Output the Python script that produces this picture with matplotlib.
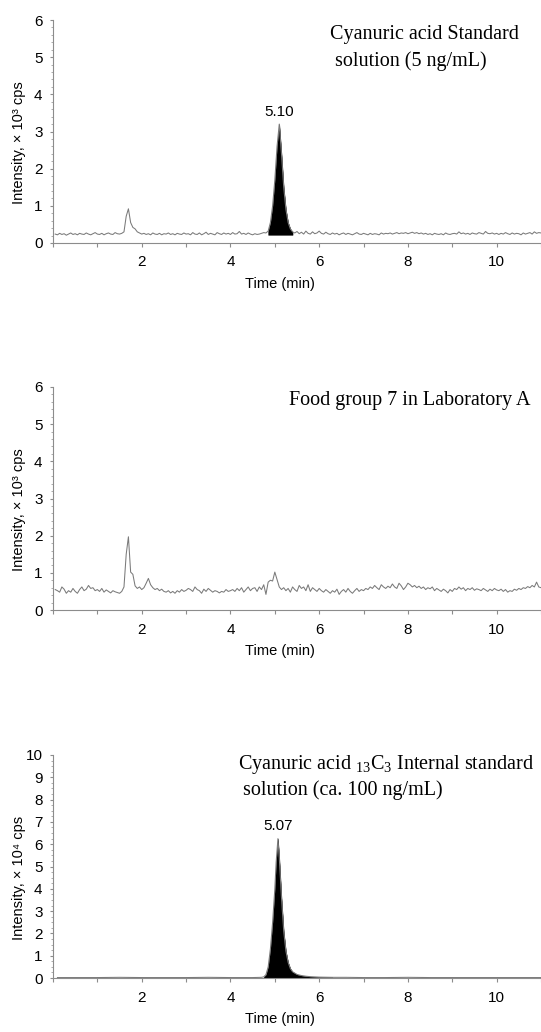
import numpy as np
import matplotlib
matplotlib.use("Agg")
import matplotlib.pyplot as plt
from matplotlib.ticker import MultipleLocator

plt.rcParams['font.family'] = ['Liberation Sans', 'DejaVu Sans']
plt.rcParams['mathtext.fontset'] = 'custom'
plt.rcParams['mathtext.rm'] = 'Liberation Serif'

# ---------------- data ----------------
# sampling grid for panels 1 and 2 (min)
time_grid = np.round(np.arange(1, 221) * 0.05, 2)

# Panel 1: cyanuric acid standard (x10^3 cps)
std_values = [
    0.24, 0.22, 0.26, 0.23, 0.25, 0.21, 0.24, 0.27, 0.23, 0.25, 0.22, 0.26, 0.24, 0.23, 0.27, 0.24, 0.22, 0.25, 0.28, 0.24,
    0.23, 0.26, 0.22, 0.25, 0.27, 0.24, 0.23, 0.28, 0.25, 0.24, 0.26, 0.30, 0.72, 0.92, 0.55, 0.42, 0.38, 0.30, 0.27, 0.24,
    0.26, 0.23, 0.25, 0.22, 0.27, 0.24, 0.23, 0.26, 0.22, 0.25, 0.24, 0.27, 0.23, 0.25, 0.22, 0.26, 0.24, 0.23, 0.27, 0.24,
    0.25, 0.22, 0.28, 0.24, 0.23, 0.27, 0.22, 0.25, 0.29, 0.23, 0.26, 0.24, 0.22, 0.28, 0.25, 0.23, 0.27, 0.24, 0.26, 0.23,
    0.28, 0.24, 0.25, 0.31, 0.24, 0.26, 0.23, 0.27, 0.24, 0.22, 0.25, 0.23, 0.24, 0.26, 0.28, 0.27, 0.32, 0.55, 1.00, 1.70,
    2.60, 3.20, 2.40, 1.50, 0.90, 0.55, 0.38, 0.30, 0.27, 0.31, 0.25, 0.29, 0.24, 0.32, 0.26, 0.24, 0.30, 0.25, 0.27, 0.32,
    0.26, 0.24, 0.29, 0.25, 0.23, 0.27, 0.24, 0.26, 0.22, 0.25, 0.27, 0.23, 0.26, 0.24, 0.22, 0.25, 0.28, 0.24, 0.23, 0.26,
    0.24, 0.22, 0.26, 0.23, 0.25, 0.24, 0.22, 0.27, 0.24, 0.26, 0.25, 0.27, 0.24, 0.26, 0.28, 0.25, 0.27, 0.26, 0.28, 0.25,
    0.27, 0.29, 0.26, 0.28, 0.25, 0.27, 0.24, 0.26, 0.23, 0.25, 0.22, 0.26, 0.24, 0.23, 0.25, 0.22, 0.27, 0.24, 0.23, 0.25,
    0.26, 0.24, 0.30, 0.25, 0.27, 0.24, 0.26, 0.23, 0.27, 0.25, 0.24, 0.28, 0.26, 0.24, 0.31, 0.26, 0.25, 0.27, 0.24, 0.26,
    0.23, 0.26, 0.24, 0.28, 0.25, 0.23, 0.27, 0.24, 0.26, 0.25, 0.22, 0.27, 0.24, 0.26, 0.28, 0.24, 0.30, 0.26, 0.28, 0.27,
]

# Panel 2: food group 7, laboratory A (x10^3 cps)
food_values = [
    0.55, 0.52, 0.48, 0.62, 0.56, 0.45, 0.52, 0.48, 0.58, 0.50, 0.45, 0.55, 0.62, 0.52, 0.56, 0.66, 0.58, 0.60, 0.52, 0.55,
    0.50, 0.58, 0.48, 0.54, 0.50, 0.46, 0.52, 0.49, 0.47, 0.45, 0.50, 0.62, 1.50, 1.97, 1.02, 0.96, 0.65, 0.58, 0.62, 0.55,
    0.60, 0.72, 0.85, 0.68, 0.60, 0.55, 0.58, 0.52, 0.56, 0.50, 0.48, 0.52, 0.46, 0.50, 0.45, 0.52, 0.48, 0.55, 0.50, 0.53,
    0.58, 0.55, 0.50, 0.62, 0.55, 0.52, 0.45, 0.56, 0.50, 0.58, 0.53, 0.48, 0.52, 0.50, 0.46, 0.50, 0.48, 0.55, 0.50, 0.52,
    0.55, 0.50, 0.58, 0.52, 0.60, 0.48, 0.55, 0.62, 0.52, 0.58, 0.60, 0.50, 0.62, 0.55, 0.68, 0.42, 0.75, 0.80, 0.78, 1.02,
    0.82, 0.62, 0.55, 0.60, 0.52, 0.58, 0.48, 0.62, 0.55, 0.50, 0.66, 0.58, 0.62, 0.52, 0.68, 0.50, 0.60, 0.55, 0.50, 0.58,
    0.52, 0.48, 0.55, 0.50, 0.45, 0.52, 0.48, 0.56, 0.42, 0.50, 0.55, 0.48, 0.58, 0.50, 0.45, 0.52, 0.58, 0.50, 0.55, 0.52,
    0.58, 0.55, 0.62, 0.58, 0.66, 0.60, 0.55, 0.68, 0.62, 0.58, 0.64, 0.60, 0.70, 0.62, 0.58, 0.72, 0.65, 0.55, 0.62, 0.72,
    0.68, 0.62, 0.66, 0.60, 0.64, 0.58, 0.62, 0.55, 0.60, 0.57, 0.62, 0.52, 0.58, 0.54, 0.50, 0.56, 0.52, 0.46, 0.55, 0.50,
    0.58, 0.55, 0.62, 0.56, 0.60, 0.52, 0.58, 0.55, 0.60, 0.53, 0.57, 0.55, 0.52, 0.58, 0.54, 0.50, 0.56, 0.52, 0.58, 0.54,
    0.52, 0.56, 0.50, 0.55, 0.48, 0.52, 0.50, 0.56, 0.53, 0.58, 0.55, 0.60, 0.58, 0.63, 0.60, 0.66, 0.62, 0.75, 0.62, 0.60,
]

# Panel 3: 13C3 internal standard (x10^4 cps)
is_time = [0.1, 0.5, 1.0, 1.5, 2.0, 2.5, 3.0, 3.5, 4.0, 4.5, 4.7, 4.75, 4.8, 4.85, 4.9, 4.95, 5.0, 5.03,
           5.07, 5.1, 5.15, 5.2, 5.25, 5.3, 5.35, 5.4, 5.5, 5.6, 5.7, 5.8, 6.0, 6.3, 6.6, 7.0, 7.5, 8.0,
           8.5, 9.0, 9.5, 10.0, 10.5, 11.0]
is_values = [0.02, 0.02, 0.02, 0.03, 0.02, 0.02, 0.02, 0.03, 0.02, 0.02, 0.03, 0.05, 0.15, 0.50, 1.30, 2.50,
             4.00, 5.20, 6.25, 5.40, 3.60, 2.10, 1.20, 0.70, 0.42, 0.28, 0.16, 0.11, 0.08, 0.06, 0.04, 0.03,
             0.03, 0.02, 0.02, 0.03, 0.02, 0.02, 0.02, 0.02, 0.02, 0.02]

x_ticks = [2, 4, 6, 8, 10]
peak_labels = ["5.10", None, "5.07"]
peak_label_pos = [(5.10, 3.52), None, (5.07, 6.8)]
fill_windows = [(4.83, 5.40, 0.22), None, (4.75, 6.3, 0.0)]
y_limits = [6, 6, 10]
y_labels = ["Intensity, \u00d7 10\u00b3 cps", "Intensity, \u00d7 10\u00b3 cps", "Intensity, \u00d7 10\u2074 cps"]

# ---------------- figure ----------------
fig = plt.figure(figsize=(5.41, 10.32), dpi=100)
W, H = 541, 1032
left_px, right_px = 53, 541
panels_px = [(20, 243), (387, 610), (755, 978)]

series = [
    (time_grid, np.array(std_values)),
    (time_grid, np.array(food_values)),
    (np.array(is_time), np.array(is_values)),
]

line_col = '#7a7a7a'
spine_col = '#8c8c8c'
serif = ['Liberation Serif', 'DejaVu Serif']

axes = []
for i, ((top, bot), (t, y)) in enumerate(zip(panels_px, series)):
    ax = fig.add_axes([left_px / W, 1 - bot / H, (right_px - left_px) / W, (bot - top) / H])
    axes.append(ax)
    ax.plot(t, y, color=line_col, lw=0.75)
    fw = fill_windows[i]
    if fw is not None:
        a, b, base = fw
        m = (t >= a) & (t <= b)
        ax.fill_between(t[m], base, y[m], color='black', lw=0.3, edgecolor='black')
    ax.set_xlim(0, 11)
    ax.set_ylim(0, y_limits[i])
    for s in ['top', 'right']:
        ax.spines[s].set_visible(False)
    for s in ['left', 'bottom']:
        ax.spines[s].set_color(spine_col)
        ax.spines[s].set_linewidth(0.8)
    ax.set_xticks(x_ticks)
    ax.xaxis.set_minor_locator(MultipleLocator(1))
    ax.yaxis.set_major_locator(MultipleLocator(1))
    ax.yaxis.set_minor_locator(MultipleLocator(0.2 if y_limits[i] <= 6 else 0.25))
    ax.tick_params(axis='x', which='major', direction='out', length=3, color=spine_col,
                   labelsize=11, pad=6, width=0.8)
    ax.tick_params(axis='x', which='minor', direction='out', length=3, color=spine_col, width=0.8)
    ax.tick_params(axis='y', which='major', direction='out', length=2.5, color=spine_col,
                   labelsize=11, pad=5, width=0.8)
    ax.tick_params(axis='y', which='minor', direction='out', length=1.2, color=spine_col, width=0.5)
    ax.set_xlabel("Time (min)", fontsize=10.5)
    ax.xaxis.set_label_coords((280 - left_px) / (right_px - left_px), -34 / (bot - top))
    ax.set_ylabel(y_labels[i], fontsize=10.5)
    ax.yaxis.set_label_coords(-(left_px - 26) / (right_px - left_px), 0.45)
    if peak_labels[i]:
        px, py = peak_label_pos[i]
        ax.text(px, py, peak_labels[i], ha='center', va='center', fontsize=11)

# titles
axes[0].text((330 - 53) / 488, (243 - 35) / 223, "Cyanuric acid Standard",
             transform=axes[0].transAxes, family=serif, fontsize=14.5, va='center', ha='left')
axes[0].text((335 - 53) / 488, (243 - 61) / 223, "solution (5 ng/mL)",
             transform=axes[0].transAxes, family=serif, fontsize=14.5, va='center', ha='left')
axes[1].text((289 - 53) / 488, (610 - 401) / 223, "Food group 7 in Laboratory A",
             transform=axes[1].transAxes, family=serif, fontsize=14.5, va='center', ha='left')
axes[2].text((238 - 53) / 488, (978 - 765) / 223,
             r"Cyanuric acid $_{\mathrm{13}}$C$_{\mathrm{3}}$ Internal standard",
             transform=axes[2].transAxes, family=serif, fontsize=14.5, va='center', ha='left')
axes[2].text((243 - 53) / 488, (978 - 790) / 223, "solution (ca. 100 ng/mL)",
             transform=axes[2].transAxes, family=serif, fontsize=14.5, va='center', ha='left')

fig.savefig("out.png", dpi=100)
